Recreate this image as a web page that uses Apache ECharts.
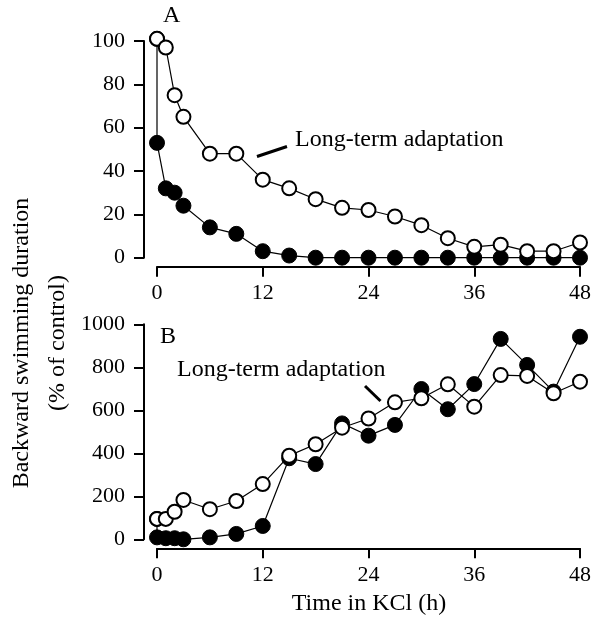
<!DOCTYPE html>
<html><head><meta charset="utf-8">
<script src="https://cdn.jsdelivr.net/npm/echarts@6/dist/echarts.min.js"></script>
<style>html,body{margin:0;padding:0;background:#fff}#c{width:594px;height:620px}</style>
</head><body><div id="c"></div>
<script>
// Panel A
var hoursA = [0,1,2,3,6,9,12,15,18,21,24,27,30,33,36,39,42,45,48];
var openA  = [101,97,75,65,48,48,36,32,27,23,22,19,15,9,5,6,3,3,7];
var filledHoursA = [0,0,1,2,3,6,9,12,15,18,21,24,27,30,33,36,39,42,45,48];
var filledA = [101,53,32,30,24,14,11,3,1,0,0,0,0,0,0,0,0,0,0,0];
// Panel B
var hoursB = [0,1,2,3,6,9,12,15,18,21,24,27,30,33,36,39,42,45,48];
var openB  = [95,95,128,183,140,178,257,389,442,519,562,637,656,721,617,764,760,679,733];
var filledHoursB = [0,0,1,2,3,6,9,12,15,18,21,24,27,30,33,36,39,42,45,48];
var filledB = [95,9,5,5,0,9,25,62,377,350,539,482,532,699,605,722,932,811,687,942];
var xTicks = [0,12,24,36,48];
var yTicksA = [0,20,40,60,80,100];
var yTicksB = [0,200,400,600,800,1000];

var FONT = "'Liberation Serif','Times New Roman',serif";
function pairs(xs, ys){ return xs.map(function(x,i){return [x, ys[i]];}); }

var chart = echarts.init(document.getElementById('c'), null, {renderer:'canvas'});
function xAx(gi){
  return {type:'value', gridIndex:gi, min:xTicks[0], max:xTicks[xTicks.length-1], interval:12, offset:9,
    axisLine:{show:true, onZero:false, lineStyle:{color:'#000', width:2}},
    axisTick:{show:true, length:10, lineStyle:{color:'#000', width:2}},
    axisLabel:{color:'#000', fontFamily:FONT, fontSize:22, margin:16, formatter:function(v){return String(v);}},
    splitLine:{show:false}};
}
function yAx(gi, ticks){
  return {type:'value', gridIndex:gi, min:ticks[0], max:ticks[ticks.length-1], interval:ticks[1]-ticks[0], offset:13,
    axisLine:{show:true, onZero:false, lineStyle:{color:'#000', width:2}},
    axisTick:{show:true, length:10, lineStyle:{color:'#000', width:2}},
    axisLabel:{color:'#000', fontFamily:FONT, fontSize:22, margin:19, formatter:function(v){return String(v);}},
    splitLine:{show:false}};
}
function filledSeries(idx, xs, ys){
  return {type:'line', xAxisIndex:idx, yAxisIndex:idx, data:pairs(xs,ys), clip:false, z:2,
    symbol:'circle', symbolSize:15, lineStyle:{color:'#000', width:1.2},
    itemStyle:{color:'#000', borderColor:'#000', borderWidth:1}, animation:false};
}
function openSeries(idx, xs, ys){
  return {type:'line', xAxisIndex:idx, yAxisIndex:idx, data:pairs(xs,ys), clip:false, z:3,
    symbol:'circle', symbolSize:14, lineStyle:{color:'#000', width:1.2},
    itemStyle:{color:'#fff', borderColor:'#000', borderWidth:2}, animation:false};
}
var tStyle = {font:'24px ' + FONT, fill:'#000'};
chart.setOption({
  animation:false,
  grid:[{left:157, width:424, top:41, height:216.7},
        {left:157, width:424, top:324.3, height:215}],
  xAxis:[xAx(0), xAx(1)],
  yAxis:[yAx(0, yTicksA), yAx(1, yTicksB)],
  series:[filledSeries(0, filledHoursA, filledA), openSeries(0, hoursA, openA),
          filledSeries(1, filledHoursB, filledB), openSeries(1, hoursB, openB)],
  graphic:[
    {type:'text', x:163, y:16, style:Object.assign({text:'A', textVerticalAlign:'middle'}, tStyle)},
    {type:'text', x:160, y:337, style:Object.assign({text:'B', textVerticalAlign:'middle'}, tStyle)},
    {type:'text', x:295, y:140, style:Object.assign({text:'Long-term adaptation', textVerticalAlign:'middle'}, tStyle)},
    {type:'line', shape:{x1:257, y1:156.5, x2:287, y2:146.5}, style:{stroke:'#000', lineWidth:3}},
    {type:'text', x:177, y:370, style:Object.assign({text:'Long-term adaptation', textVerticalAlign:'middle'}, tStyle)},
    {type:'line', shape:{x1:365, y1:386, x2:380.5, y2:401}, style:{stroke:'#000', lineWidth:3}},
    {type:'text', x:369, y:604, style:Object.assign({text:'Time in KCl (h)', textAlign:'center', textVerticalAlign:'middle'}, tStyle)},
    {type:'text', x:40, y:343, rotation:Math.PI/2,
      style:Object.assign({text:'Backward swimming duration\n(% of control)', textAlign:'center', textVerticalAlign:'middle', lineHeight:36}, tStyle)}
  ]
});
</script></body></html>
